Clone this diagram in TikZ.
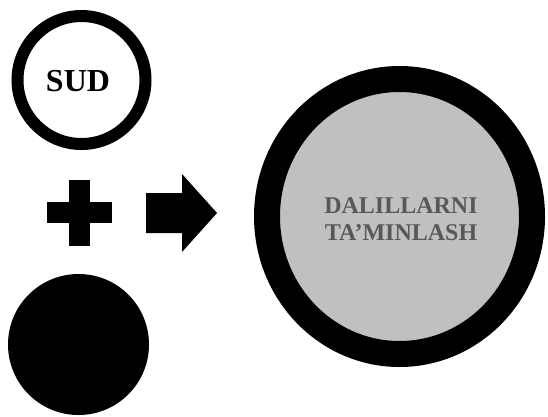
\documentclass[tikz,border=0pt]{standalone}
\usepackage{fontspec}
\setmainfont{Liberation Serif}
\definecolor{discgray}{RGB}{192, 192, 192}
\definecolor{labelgray}{RGB}{88, 88, 88}
\usetikzlibrary{shapes.geometric}
\tikzset{
  % Ring with a heavy black border (#1 = border width).
  ring/.style={
    circle, draw=black, line width=#1,
    fill=white, inner sep=0pt,
    align=center,
  },
  % Solid black disc.
  disc/.style={
    circle, fill=black, draw=none, inner sep=0pt,
  },
  % Result body: grey fill, thick black rim.
  result/.style={
    ellipse, draw=black, line width=26pt,
    fill=discgray, inner sep=0pt,
    align=center,
  },
  ring-label/.style={font=\fontsize{32}{36}\selectfont\bfseries, text=black},
  result-label/.style={font=\fontsize{24}{27}\selectfont\bfseries, text=labelgray},
}
\begin{document}
\begin{tikzpicture}[x=1pt, y=-1pt]
  \useasboundingbox (0,0) rectangle (548,416);

  % Left column: court ring, plus sign, black disc.
  \node[ring=12pt, minimum size=128pt] (sud) at (81.5, 80) {};
  \node[ring-label, anchor=base] (sudtext) at (78, 91) {SUD};
  \node[disc, minimum size=141pt] (blackdisc) at (78.5, 344.5) {};

  % Plus sign between them.
  \coordinate (plus) at (79.5, 212.5);
  \fill (plus) ++(-32.5,-10.5) rectangle ++(65,21);
  \fill (plus) ++(-10.5,-33) rectangle ++(21,66);

  % Block arrow towards the result.
  \coordinate (arrow) at (146, 213);
  \fill (arrow) ++(0,-20) -- ++(36,0) -- ++(0,-19) -- ++(35,39)
    -- ++(-35,39) -- ++(0,-19) -- ++(-36,0) -- cycle;

  % Result disc.
  \node[result, minimum width=265pt, minimum height=275pt] (res) at (399.5, 216.5) {};
  \node[result-label, anchor=base] (restext1) at (401, 213) {DALILLARNI};
  \node[result-label, anchor=base] (restext2) at (401, 240) {TA’MINLASH};

\end{tikzpicture}
\end{document}
